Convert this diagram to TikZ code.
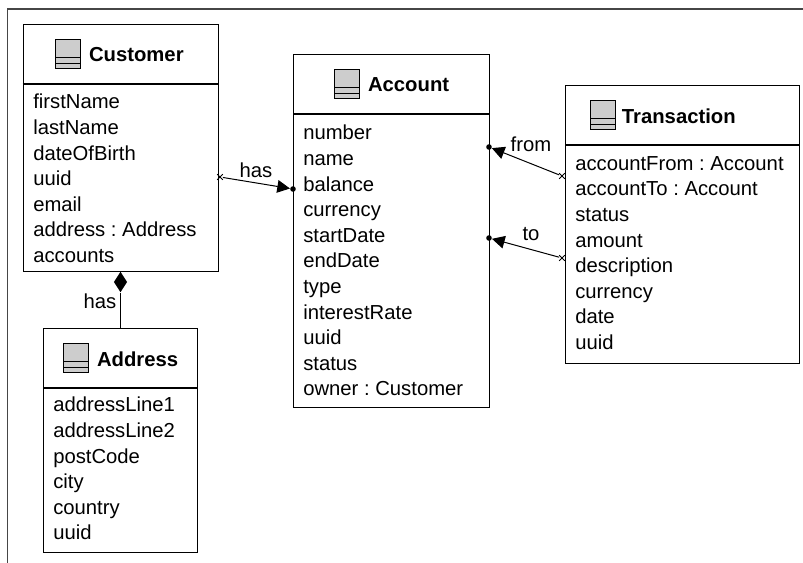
\documentclass[tikz,border=0pt]{standalone}
\usepackage{fontspec}
\setmainfont{Liberation Sans}
\usepackage{tikz}
\usetikzlibrary{positioning}
\usetikzlibrary{arrows.meta}
\usetikzlibrary{shapes.geometric}
\usetikzlibrary{shapes.misc}
\definecolor{color-frame}{RGB}{70,70,70}
\definecolor{color-icon}{RGB}{205,205,205}
\newcommand{\classicon}[2]{%
  \node [icon] (#1) at (#2) {};
  \draw [line width=0.6pt] ([yshift=-2.4pt]#1.west) -- ([yshift=-2.4pt]#1.east);
  \draw [line width=0.6pt] ([yshift=-6.8pt]#1.west) -- ([yshift=-6.8pt]#1.east);
}
\frenchspacing

\begin{document}
\begin{tikzpicture}[x=0.75pt, y=-0.75pt, node distance=6pt, >={Triangle[length=9.5pt,width=9.5pt]},
icon/.style={rectangle,draw,fill=color-icon,line width=0.7pt,minimum width=18.5pt,minimum height=22pt,inner sep=0pt},
classbox/.style={rectangle,draw,line width=0.8pt,anchor=north west,inner sep=0pt},
title/.style={inner sep=0pt,yshift=-0.7pt,font=\fontsize{15.2}{19.2}\selectfont\bfseries},
attrs/.style={anchor=north west,inner sep=0pt,align=left,font=\fontsize{15.2}{19.2}\selectfont},
lbl/.style={inner sep=0pt,font=\fontsize{15.2}{19.2}\selectfont},
dot/.style={circle,inner sep=0pt,minimum size=4.2pt,fill},
star/.style={cross out,draw,inner sep=0pt,minimum size=3.6pt,line width=0.7pt},
assoc/.style={line width=0.75pt}]

\useasboundingbox (0,0) rectangle (803,563);

%% frame
\draw [color-frame,line width=1.1pt] (7.5,563) -- (7.5,9) -- (803,9);

%% Customer
\node [classbox,minimum width=146.5pt,minimum height=185.5pt] (customer) at (22.5,24) {};
\draw [line width=0.8pt] (22.5,84) -- (218,84);
\classicon{customericon}{68,54}
\node [title,right = of customericon] {Customer};
\node [attrs] at (33,94) {firstName\\lastName\\dateOfBirth\\uuid\\email\\address : Address\\accounts};

%% Account
\node [classbox,minimum width=147pt,minimum height=265pt] (account) at (293,54) {};
\draw [line width=0.8pt] (293,114) -- (489,114);
\classicon{accounticon}{347,84}
\node [title,right = of accounticon] {Account};
\node [attrs] at (303,125) {number\\name\\balance\\currency\\startDate\\endDate\\type\\interestRate\\uuid\\status\\owner : Customer};

%% Transaction
\node [classbox,minimum width=175.5pt,minimum height=208.5pt] (transaction) at (565,85) {};
\draw [line width=0.8pt] (565,145) -- (799,145);
\classicon{transactionicon}{603,115}
\node [title,right = 4.4pt of transactionicon] {Transaction};
\node [attrs] at (575,156) {accountFrom : Account\\accountTo : Account\\status\\amount\\description\\currency\\date\\uuid};

%% Address
\node [classbox,minimum width=115.5pt,minimum height=168pt] (address) at (43,328) {};
\draw [line width=0.8pt] (43,388) -- (197,388);
\classicon{addressicon}{76,358}
\node [title,right = of addressicon] {Address};
\node [attrs] at (53,397) {addressLine1\\addressLine2\\postCode\\city\\country\\uuid};

%% ends of the associations
\node [star] (hasfrom) at (220,177) {};
\node [dot] (hasto) at (293,189) {};
\node [star] (fromfrom) at (562,176) {};
\node [dot] (fromto) at (489,147) {};
\node [star] (tofrom) at (562,258) {};
\node [dot] (toto) at (489,238) {};
\node [diamond,fill,inner sep=0pt,minimum width=10pt,minimum height=15.5pt] (whole) at (120.5,282) {};
\coordinate (part) at (120.5,328);

\draw [assoc,->] (hasfrom) -- (hasto);
\draw [assoc,->] (fromfrom) -- (fromto);
\draw [assoc,->] (tofrom) -- (toto);
\draw [assoc] (whole) -- (part);

\node [lbl] at (256,170) {has};
\node [lbl] at (531,144) {from};
\node [lbl] at (531,234) {to};
\node [lbl] at (100,301) {has};

\end{tikzpicture}
\end{document}
